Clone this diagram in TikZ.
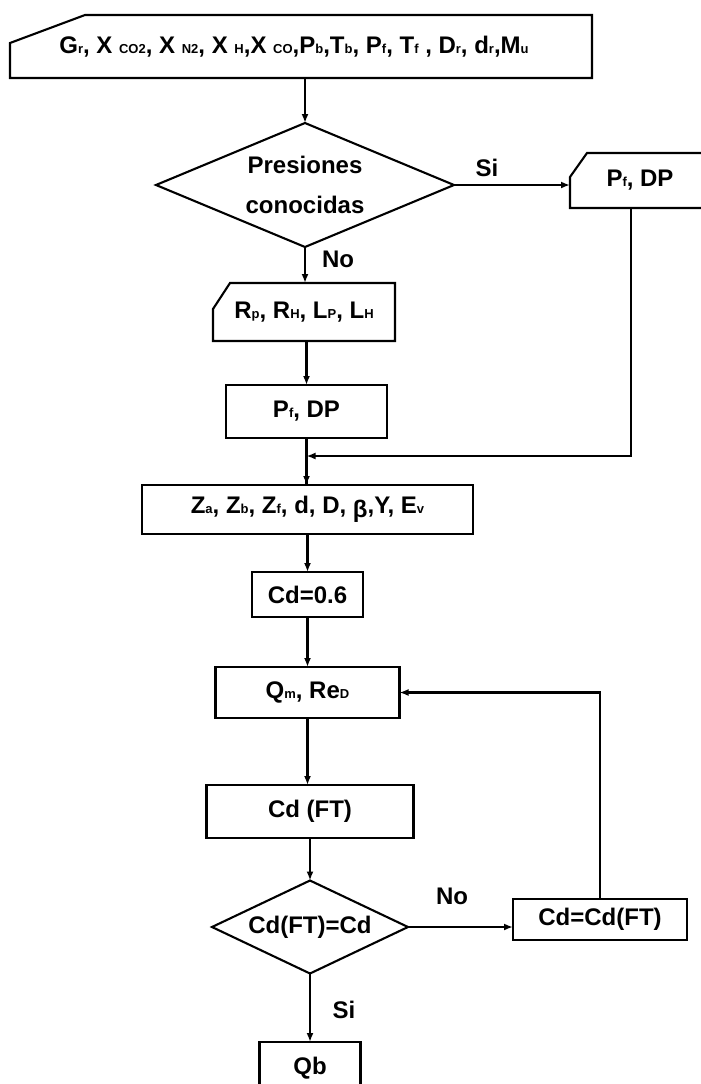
\documentclass[tikz,border=0pt]{standalone}
\usepackage{fontspec}
\setmainfont{Liberation Sans}
\usetikzlibrary{arrows.meta,calc,shapes.geometric}
\newcommand\sbs[1]{{\fontsize{13}{13}\selectfont #1}}
\begin{document}
\begin{tikzpicture}[x=1pt,y=-1pt,line width=2.1pt,
  every node/.style={font=\fontsize{24}{40}\selectfont\bfseries,inner sep=0pt,outer sep=0pt},
  box/.style={draw,rectangle},
  txt/.style={rectangle},
  dec/.style={draw,diamond,align=center},
  arr/.style={-{Latex[length=9pt,width=7pt]}}]
\useasboundingbox (0,0) rectangle (701,1084);

% nodes
\node[txt,minimum width=582,minimum height=63] (top) at (301,46.5)
  {\hspace*{-14pt}\raisebox{-4pt}{G\sbs{r}, X \sbs{CO2}, X \sbs{N2}, X \sbs{H},X \sbs{CO},P\sbs{b},T\sbs{b}, P\sbs{f}, T\sbs{f} , D\sbs{r}, d\sbs{r},M\sbs{u}}};
\node[dec,aspect=2.4,minimum width=298,minimum height=124] (d1) at (305,185) {Presiones\\conocidas};
\node[txt,minimum width=150,minimum height=55] (pin) at (645,180.5) {\hspace*{-10pt}P\sbs{f}, DP};
\node[txt,minimum width=182,minimum height=58] (rbox) at (304,312) {R\sbs{p}, R\sbs{H}, L\sbs{P}, L\sbs{H}};
\node[box,minimum width=161,minimum height=53] (pf) at (306.5,411.5) {P\sbs{f}, DP};
\node[box,minimum width=331,minimum height=49] (z) at (307.5,509.5) {Z\sbs{a}, Z\sbs{b}, Z\sbs{f}, d, D, \raisebox{-4pt}{β},Y, E\sbs{v}};
\node[box,minimum width=111,minimum height=45] (cd06) at (307.5,594.5) {Cd=0.6};
\node[box,minimum width=184,minimum height=51] (qm) at (307.5,692.5) {Q\sbs{m}, Re\sbs{D}};
\node[box,minimum width=207,minimum height=53] (cdft) at (310,811.5) {Cd (FT)};
\node[dec,aspect=2,minimum width=196,minimum height=93] (d2) at (310,927) {Cd(FT)=Cd};
\node[box,minimum width=174,minimum height=41] (cdc) at (600,919.5) {Cd=Cd(FT)};
\node[box,minimum width=101,minimum height=52] (qb) at (310,1068) {\raisebox{5pt}{Qb}};

% labels
\node (si1) at (487,168) {Si};
\node (no1) at (338,259) {No};
\node (no2) at (452,896) {No};
\node (si2) at (344,1010) {Si};

% manual input shapes
\draw ($(top.north west)+(75,0)$) -- (top.north east) -- (top.south east)
  -- (top.south west) -- ($(top.north west)+(0,28)$) -- cycle;
\draw ($(pin.north west)+(17,0)$) -- (pin.north east) -- (pin.south east)
  -- (pin.south west) -- ($(pin.north west)+(0,24)$) -- cycle;
\draw ($(rbox.north west)+(17,0)$) -- (rbox.north east) -- (rbox.south east)
  -- (rbox.south west) -- ($(rbox.north west)+(0,26)$) -- cycle;

% connectors
\coordinate (pdrop) at (631,208);
\coordinate (merge) at (306.5,456);
\draw[arr] (d1.north |- top.south) -- (d1.north);
\draw[arr] (d1.east) -- (d1.east -| pin.west);
\draw[arr] (d1.south) -- (d1.south |- rbox.north);
\draw[arr] (pf.north |- rbox.south) -- (pf.north);
\draw (pf.south) -- (pf.south |- z.north);
\draw[arr] (pdrop) |- (merge);
\draw[arr] (merge) -- (merge |- z.north);
\draw[arr] (z.south) -- (cd06.north);
\draw[arr] (cd06.south) -- (qm.north);
\draw[arr] (qm.south) -- (qm.south |- cdft.north);
\draw[arr] (cdft.south) -- (d2.north);
\draw[arr] (d2.south) -- (qb.north);
\draw[arr] (d2.east) -- (d2.east -| cdc.west);
\draw[arr] (cdc.north) |- (qm.east);
\end{tikzpicture}
\end{document}
